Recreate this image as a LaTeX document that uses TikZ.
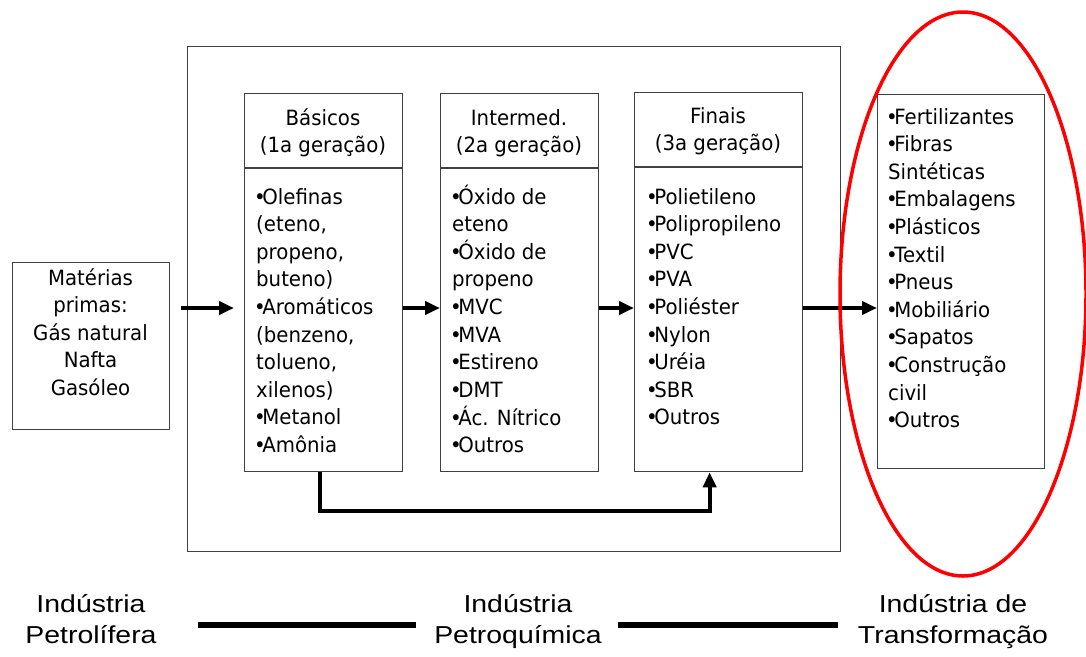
\documentclass[tikz,border=0pt]{standalone}
\usepackage{fontspec}
\setmainfont{DejaVu Sans}
\newfontfamily\boxfont[FakeStretch=0.94]{DejaVu Sans}
\newfontfamily\labfont[FakeStretch=1.16]{Liberation Sans}
\usetikzlibrary{arrows.meta,calc}
\newcommand\bul{\kern-2pt•\kern-3.5pt}
\begin{document}
\begin{tikzpicture}[x=1pt,y=-1pt,
  frame/.style={draw=black!75, line width=1.3pt, inner sep=0pt},
  txt/.style={inner sep=0pt, font=\boxfont\fontsize{21}{27.6}\selectfont},
  lab/.style={inner sep=0pt, font=\labfont\fontsize{24.5}{31}\selectfont},
  arr/.style={line width=4pt, -{Triangle[length=15pt,width=13pt]}, line join=miter},
  sepline/.style={line width=6pt},
  ring/.style={draw=red, line width=3.5pt}]

\useasboundingbox[fill=white] (0,0) rectangle (1086,656);

% named helper coordinates
\coordinate (ay) at (0,308);
\coordinate (ly) at (0,511);
\coordinate (hy) at (0,168);
\coordinate (hyf) at (0,167);

% outer frame (petrochemical industry)
\node[frame, anchor=north west, minimum width=653pt, minimum height=505pt] (petro) at (187,46) {};

% boxes
\node[frame, anchor=north west, minimum width=157pt, minimum height=167pt] (mat) at (12,262) {};
\node[frame, anchor=north west, minimum width=158pt, minimum height=378pt] (bas) at (244,93) {};
\node[frame, anchor=north west, minimum width=158pt, minimum height=378pt] (int) at (440,93) {};
\node[frame, anchor=north west, minimum width=168pt, minimum height=379pt] (fin) at (634,92) {};
\node[frame, anchor=north west, minimum width=167pt, minimum height=374pt] (trans) at (877,94) {};

% header dividers
\draw[frame] (bas.west |- hy) -- (bas.east |- hy);
\draw[frame] (int.west |- hy) -- (int.east |- hy);
\draw[frame] (fin.west |- hyf) -- (fin.east |- hyf);

% texts
\node[txt, anchor=base] (matT) at (90.5,285) {\begin{tabular}[t]{@{}c@{}}Matérias\\primas:\\Gás natural\\Nafta\\Gasóleo\end{tabular}};

\node[txt, anchor=base] (basH) at (323,125) {\begin{tabular}[t]{@{}c@{}}Básicos\\(1a geração)\end{tabular}};
\node[txt, anchor=base] (intH) at (519,125) {\begin{tabular}[t]{@{}c@{}}Intermed.\\(2a geração)\end{tabular}};
\node[txt, anchor=base] (finH) at (718,123) {\begin{tabular}[t]{@{}c@{}}Finais\\(3a geração)\end{tabular}};

\node[txt, anchor=base west] (basT) at (256,204) {\begin{tabular}[t]{@{}l@{}}\bul Olefinas\\(eteno,\\propeno,\\buteno)\\\bul Aromáticos\\(benzeno,\\tolueno,\\xilenos)\\\bul Metanol\\\bul Amônia\end{tabular}};
\node[txt, anchor=base west] (intT) at (452,204) {\begin{tabular}[t]{@{}l@{}}\bul Óxido de\\eteno\\\bul Óxido de\\propeno\\\bul MVC\\\bul MVA\\\bul Estireno\\\bul DMT\\\bul Ác. Nítrico\\\bul Outros\end{tabular}};
\node[txt, anchor=base west] (finT) at (648,204) {\begin{tabular}[t]{@{}l@{}}\bul Polietileno\\\bul Polipropileno\\\bul PVC\\\bul PVA\\\bul Poliéster\\\bul Nylon\\\bul Uréia\\\bul SBR\\\bul Outros\end{tabular}};
\node[txt, anchor=base west] (transT) at (888,124) {\begin{tabular}[t]{@{}l@{}}\bul Fertilizantes\\\bul Fibras\\Sintéticas\\\bul Embalagens\\\bul Plásticos\\\bul Textil\\\bul Pneus\\\bul Mobiliário\\\bul Sapatos\\\bul Construção\\civil\\\bul Outros\end{tabular}};

% arrows
\draw[arr, shorten <=11pt, shorten >=10pt] (mat.east |- ay) -- (bas.west |- ay);
\draw[arr] (bas.east |- ay) -- (int.west |- ay);
\draw[arr] (int.east |- ay) -- (fin.west |- ay);
\draw[arr] (fin.east |- ay) -- (trans.west |- ay);
\draw[arr] ([xshift=-4pt]bas.south) -- ([xshift=-4pt]bas.south |- ly) -| ([xshift=-9pt]fin.south);

% red ellipse
\draw[ring] (963,294) ellipse [x radius=123, y radius=282];

% bottom labels
\node[lab, anchor=base] (l1) at (91,612) {\begin{tabular}[t]{@{}c@{}}Indústria\\Petrolífera\end{tabular}};
\node[lab, anchor=base] (l2) at (518,612) {\begin{tabular}[t]{@{}c@{}}Indústria\\Petroquímica\end{tabular}};
\node[lab, anchor=base] (l3) at (953,612) {\begin{tabular}[t]{@{}c@{}}Indústria de\\Transformação\end{tabular}};

\draw[sepline] ($(l1.east)+(41.5,3.7)$) -- ($(l2.west)+(-18.5,3.7)$);
\draw[sepline] ($(l2.east)+(16.5,3.7)$) -- ($(l3.west)+(-19.5,3.7)$);
\end{tikzpicture}
\end{document}
